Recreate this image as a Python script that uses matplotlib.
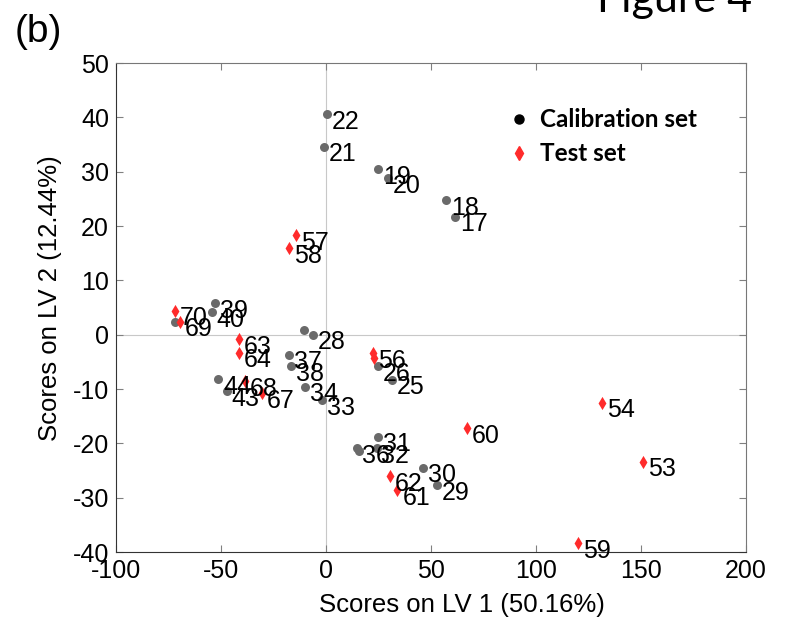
import matplotlib.pyplot as plt
from matplotlib.lines import Line2D

plt.rcParams['font.family'] = ['Liberation Sans', 'DejaVu Sans']
plt.rcParams['axes.unicode_minus'] = False

# calibration samples (LV1 score, LV2 score, sample id)
cal_x = [0.3, -1.1, 24.9, 29.7, 57.1, 61.4, -52.9, -54.4, -71.9,
         -10.5, -6.3, -17.5, -16.5, -51.3, -47.3, -10.0, -2.0,
         24.6, 31.6, 24.9, 14.6, 15.5, 24.1, 46.3, 52.7]
cal_y = [40.6, 34.6, 30.5, 28.8, 24.8, 21.7, 5.8, 4.1, 2.4,
         0.9, 0.0, -3.7, -5.8, -8.2, -10.4, -9.6, -12.0,
         -5.8, -8.3, -18.8, -20.9, -21.4, -20.9, -24.5, -27.7]
cal_ids = ['22', '21', '19', '20', '18', '17', '39', '40', '',
           '', '28', '37', '38', '44', '43', '34', '33',
           '26', '25', '31', '36', '', '32', '30', '29']

# test samples
test_x = [-14.3, -17.5, -71.9, -69.5, -41.3, -41.3, -38.6, -30.6,
          22.3, 22.8, 67.0, 30.5, 34.0, 131.3, 151.1, 120.2]
test_y = [18.3, 15.9, 4.4, 2.4, -0.8, -3.3, -8.6, -10.8,
          -3.4, -4.2, -17.2, -26.1, -28.6, -12.5, -23.4, -38.4]
test_ids = ['57', '58', '70', '69', '63', '64', '68', '67',
            '56', '', '60', '62', '61', '54', '53', '59']

xticks = [-100, -50, 0, 50, 100, 150, 200]
yticks = [-40, -30, -20, -10, 0, 10, 20, 30, 40, 50]

fig = plt.figure(figsize=(7.87, 6.22), dpi=100)
ax = fig.add_axes([0.1474, 0.1125, 0.8005, 0.7862])

ax.axvline(0, color='#c8c8c8', lw=0.8, zorder=0)
ax.axhline(0, color='#c8c8c8', lw=0.8, zorder=0)

ax.scatter(cal_x, cal_y, s=42, color='#6a6a6a', marker='o', lw=0, zorder=2)
ax.scatter(test_x, test_y, s=45, color='#ff2b2b', marker='d', lw=0, zorder=3)

for x, y, t in zip(cal_x + test_x, cal_y + test_y, cal_ids + test_ids):
    if t:
        ax.annotate(t, (x, y), xytext=(3.5, -5.5), textcoords='offset points',
                    ha='left', va='center', fontsize=18, zorder=4)

ax.set_xlim(-100, 200)
ax.set_ylim(-40, 50)
ax.set_xticks(xticks)
ax.set_yticks(yticks)
ax.tick_params(direction='in', top=True, right=True, length=5,
               labelsize=18, color='#808080', pad=5)
for s in ax.spines.values():
    s.set_color('#777777')
ax.spines['left'].set_color('#333333')
ax.spines['bottom'].set_color('#333333')

ax.set_xlabel('Scores on LV 1 (50.16%)', fontsize=18.5)
ax.set_ylabel('Scores on LV 2 (12.44%)', fontsize=18.5)
ax.xaxis.set_label_coords(0.549, -0.084)
ax.yaxis.set_label_coords(-0.085, 0.52)

handles = [Line2D([], [], ls='none', marker='o', color='black', markersize=6.5),
           Line2D([], [], ls='none', marker='d', color='#ff2b2b', markersize=7)]
ax.legend(handles, ['Calibration set', 'Test set'], loc='upper left',
          bbox_to_anchor=(0.585, 0.952), frameon=False, handlelength=1,
          handletextpad=0.4, labelspacing=0.45,
          prop={'family': 'Lato', 'weight': 'bold', 'size': 17.5})

fig.text(0.019, 0.948, '(b)', fontsize=28, va='center', ha='left')
fig.text(0.758, 1 - 12 / 622, 'Figure 4', fontsize=31, family='Lato',
         va='baseline', ha='left')

fig.savefig('out.png', dpi=100)
